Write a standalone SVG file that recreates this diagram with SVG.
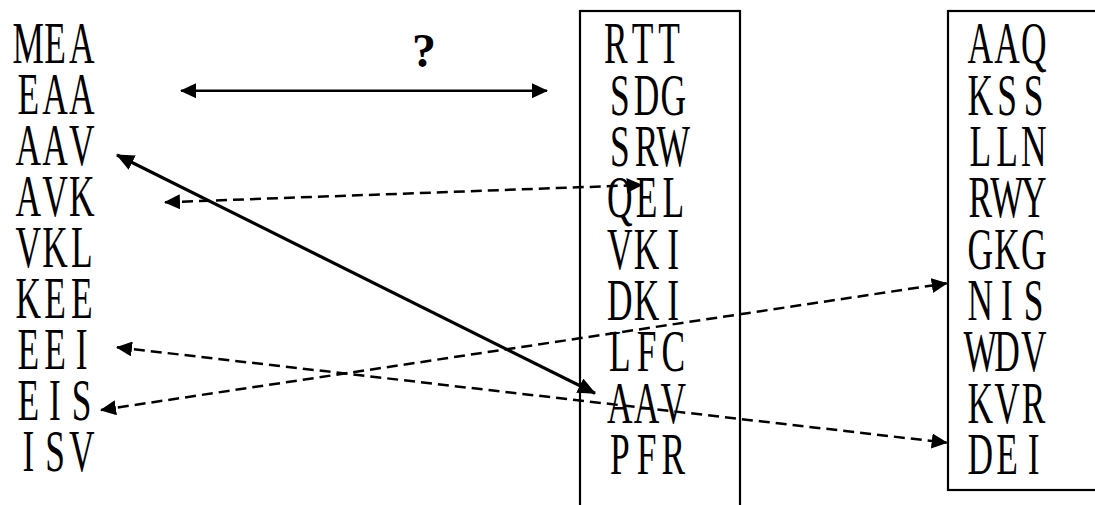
<svg xmlns="http://www.w3.org/2000/svg" width="1095" height="505" viewBox="0 0 1095 505">
<style>
.t{font-family:"Liberation Serif","Times New Roman",serif;font-size:59px;text-anchor:middle;fill:#000}
.box{fill:none;stroke:#000;stroke-width:2.2}
.c{fill:none;stroke:#000;stroke-width:2.5}
.cs{fill:none;stroke:#000;stroke-width:3.2}
.d{stroke-dasharray:11 6}
.q{font-family:"Liberation Serif","Times New Roman",serif;font-size:48px;font-weight:bold;text-anchor:middle}
</style>
<defs>
<marker id="ah" viewBox="0 0 16 15" markerWidth="16" markerHeight="15" refX="15" refY="7.5" orient="auto-start-reverse" markerUnits="userSpaceOnUse">
<path d="M0,0 L16,7.5 L0,15 Z" fill="#000"/>
</marker>
<marker id="ahL" viewBox="0 0 18 16" markerWidth="18" markerHeight="16" refX="17" refY="8" orient="auto-start-reverse" markerUnits="userSpaceOnUse">
<path d="M0,0 L18,8 L0,16 Z" fill="#000"/>
</marker>
</defs>
<rect width="1095" height="505" fill="#fff"/>
<g id="left-col" transform="scale(0.6,1)">
<text class="t" x="47.2 91.7 136.2" y="63">MEA</text>
<text class="t" x="47.2 91.7 136.2" y="114">EAA</text>
<text class="t" x="47.2 91.7 136.2" y="165">AAV</text>
<text class="t" x="47.2 91.7 136.2" y="216">AVK</text>
<text class="t" x="47.2 91.7 136.2" y="267">VKL</text>
<text class="t" x="47.2 91.7 136.2" y="318">KEE</text>
<text class="t" x="47.2 91.7 136.2" y="369">EEI</text>
<text class="t" x="47.2 91.7 136.2" y="420">EIS</text>
<text class="t" x="47.2 91.7 136.2" y="471">ISV</text>
</g>
<g id="box-mid">
<rect class="box" x="580" y="11" width="160" height="530"/>
<g transform="scale(0.6,1)">
<text class="t" x="1026.3 1070.8 1115.3" y="63.5">RTT</text>
<text class="t" x="1033 1077.5 1122" y="114.8">SDG</text>
<text class="t" x="1033 1077.5 1122" y="166.1">SRW</text>
<text class="t" x="1033 1077.5 1122" y="217.4">QEL</text>
<text class="t" x="1033 1077.5 1122" y="268.7">VKI</text>
<text class="t" x="1033 1077.5 1122" y="320">DKI</text>
<text class="t" x="1033 1077.5 1122" y="371.3">LFC</text>
<text class="t" x="1033 1077.5 1122" y="422.6">AAV</text>
<text class="t" x="1033 1077.5 1122" y="473.9">PFR</text>
</g>
</g>
<g id="box-right">
<rect class="box" x="948" y="11" width="200" height="479"/>
<g transform="scale(0.6,1)">
<text class="t" x="1633.8 1678.3 1722.8" y="63.5">AAQ</text>
<text class="t" x="1633.8 1678.3 1722.8" y="114.8">KSS</text>
<text class="t" x="1633.8 1678.3 1722.8" y="166.1">LLN</text>
<text class="t" x="1633.8 1678.3 1722.8" y="217.4">RWY</text>
<text class="t" x="1633.8 1678.3 1722.8" y="268.7">GKG</text>
<text class="t" x="1633.8 1678.3 1722.8" y="320">NIS</text>
<text class="t" x="1633.8 1678.3 1722.8" y="371.3">WDV</text>
<text class="t" x="1633.8 1678.3 1722.8" y="422.6">KVR</text>
<text class="t" x="1633.8 1678.3 1722.8" y="473.9">DEI</text>
</g>
</g>
<g id="question">
<text class="q" x="424" y="67">?</text>
</g>
<g id="connectors">
<path class="c" d="M181,90.7 L547,90.7" marker-start="url(#ah)" marker-end="url(#ah)"/>
<path class="cs" d="M117,155 L595,393.3" marker-start="url(#ahL)" marker-end="url(#ahL)"/>
<path class="c d" d="M165,202.3 L641.7,185" marker-start="url(#ah)" marker-end="url(#ah)"/>
<path class="c d" d="M101,410 L946.7,283.3" marker-start="url(#ah)" marker-end="url(#ah)"/>
<path class="c d" d="M117,347.3 L946.7,442.7" marker-start="url(#ah)" marker-end="url(#ah)"/>
</g>
</svg>
